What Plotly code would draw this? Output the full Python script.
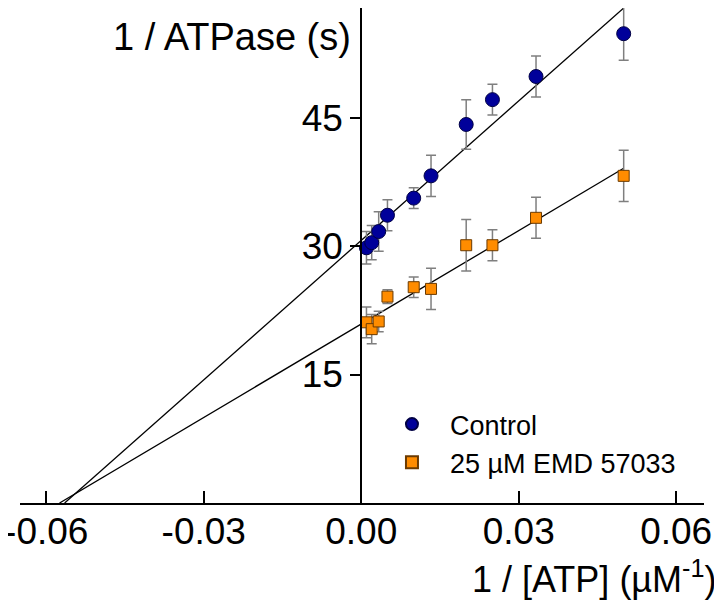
import plotly.graph_objects as go

# ---- data ----
atp_inv = [0.001, 0.002, 0.00333, 0.005, 0.01, 0.0133, 0.02, 0.025, 0.0333, 0.05]

control_y = [29.8, 30.4, 31.7, 33.6, 35.6, 38.2, 44.2, 47.1, 49.8, 54.8]
control_err = [1.9, 2.0, 2.3, 1.8, 1.2, 2.4, 2.9, 1.8, 2.4, 3.1]

emd_y = [21.1, 20.3, 21.2, 24.1, 25.2, 25.0, 30.1, 30.1, 33.3, 38.2]
emd_err = [1.8, 1.7, 1.2, 0.8, 1.2, 2.4, 3.0, 1.8, 2.4, 3.0]

# linear fits (intercept, slope)
control_fit = (30.66, 542.7)
emd_fit = (20.9, 363.7)
fit_x_end = 0.05

x_tickvals = [-0.06, -0.03, 0.0, 0.03, 0.06]
x_ticktext = ["-0.06", "-0.03", "0.00", "0.03", "0.06"]
y_tickvals = [15, 30, 45]

series_names = ["Control", "25 µM EMD 57033"]

FONT = "Liberation Sans, Arial, Helvetica, sans-serif"
X_RANGE = [-0.065, 0.0653]
Y_RANGE = [0, 57.8]


def fit_line(params):
    b, m = params
    x0 = -b / m
    return [x0, fit_x_end], [0.0, b + m * fit_x_end]


fig = go.Figure()

for params in (control_fit, emd_fit):
    lx, ly = fit_line(params)
    fig.add_trace(go.Scatter(x=lx, y=ly, mode="lines",
                             line=dict(color="black", width=1.3),
                             showlegend=False, hoverinfo="skip"))

fig.add_trace(go.Scatter(
    x=atp_inv, y=control_y, mode="markers", name=series_names[0],
    marker=dict(symbol="circle", size=14, color="#00009a",
                line=dict(color="#000044", width=1)),
    error_y=dict(type="data", array=control_err, color="#7f7f7f",
                 thickness=1.5, width=5)))

fig.add_trace(go.Scatter(
    x=atp_inv, y=emd_y, mode="markers", name=series_names[1],
    marker=dict(symbol="square", size=11, color="#ff8c00",
                line=dict(color="#6b3a00", width=1)),
    error_y=dict(type="data", array=emd_err, color="#7f7f7f",
                 thickness=1.5, width=5)))

y_pos = (0 - X_RANGE[0]) / (X_RANGE[1] - X_RANGE[0])

fig.update_layout(
    width=722, height=609,
    margin=dict(l=12, r=26, t=0, b=114, autoexpand=False),
    paper_bgcolor="white", plot_bgcolor="white",
    font=dict(family=FONT, color="black"),
    xaxis=dict(range=X_RANGE, showgrid=False, zeroline=False, automargin=False,
               showline=True, linecolor="black", linewidth=2,
               ticks="inside", ticklen=12, tickwidth=2, tickcolor="black",
               tickvals=x_tickvals, ticktext=x_ticktext,
               ticklabeloverflow="allow", ticklabelstandoff=-5,
               tickfont=dict(size=37, family=FONT)),
    yaxis=dict(range=Y_RANGE, showgrid=False, zeroline=False, automargin=False,
               anchor="free", position=y_pos,
               showline=True, linecolor="black", linewidth=2,
               ticks="outside", ticklen=10, tickwidth=2, tickcolor="black",
               tickvals=y_tickvals, ticklabeloverflow="allow",
               tickfont=dict(size=37, family=FONT)),
    legend=dict(x=0.5175, y=0.208, xanchor="left", yanchor="top",
                bgcolor="rgba(0,0,0,0)", font=dict(size=27, family=FONT),
                tracegroupgap=0, itemsizing="constant", itemwidth=66),
    annotations=[
        dict(text="1 / ATPase (s)", xref="paper", yref="paper",
             x=0.4868, y=0.9414, xanchor="right", yanchor="middle",
             showarrow=False, font=dict(size=38, family=FONT)),
        dict(text="1 / [ATP] (µM<sup>-1</sup>)", xref="paper", yref="paper",
             x=1.022, y=-0.1495, xanchor="right", yanchor="middle",
             showarrow=False, font=dict(size=36, family=FONT)),
    ],
)

fig.write_html("out.html")
